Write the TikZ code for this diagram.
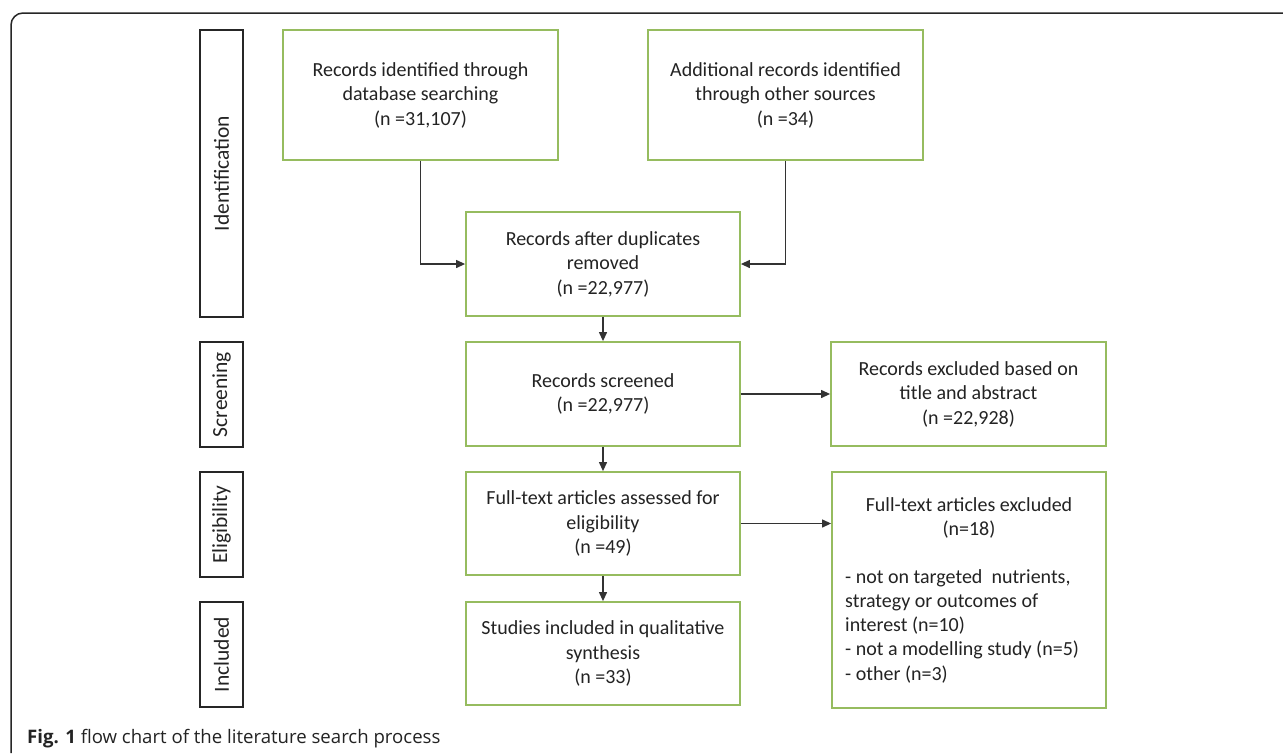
\documentclass[tikz,border=0pt]{standalone}
\usepackage{fontspec}
\setmainfont{Carlito}
\newfontfamily\capfont{Open Sans}
\usetikzlibrary{arrows.meta}
\definecolor{boxgreen}{RGB}{150,188,95}
\definecolor{txt}{RGB}{35,35,35}
\begin{document}
\begin{tikzpicture}[x=1pt,y=-1pt,
  gbox/.style={draw=boxgreen,line width=1.8pt,fill=white,inner sep=0pt,align=center,text=txt,font=\fontsize{20}{24.5}\selectfont},
  stagebox/.style={draw=black!85,line width=1.8pt,fill=white,inner sep=0pt,rotate=90,minimum height=43pt,text=txt,font=\fontsize{21.5}{24}\selectfont},
  plaintext/.style={inner sep=0pt,text=txt,font=\fontsize{20}{24.3}\selectfont},
  arr/.style={draw=black!80,line width=1.2pt,-{Triangle[length=9pt,width=8pt]}}]
\useasboundingbox (0,0) rectangle (1283,753);
\fill[white] (0,0) rectangle (1283,753);
% outer frame
\draw[line width=1.5pt,black!85,rounded corners=12pt] (11,753) -- (11,13) -- (1283,13);
% stage labels
\node[stagebox,minimum width=287pt] (sid) at (221.5,173.5) {Identification};
\node[stagebox,minimum width=105pt] (sscr) at (221.5,394.5) {Screening};
\node[stagebox,minimum width=105pt] (selig) at (221.5,524.5) {Eligibility};
\node[stagebox,minimum width=105pt] (sinc) at (221.5,654.5) {Included};
% boxes
\node[gbox,minimum width=275pt,minimum height=130pt] (b1) at (420.5,95) {Records identified through\\database searching\\(n =31,107)};
\node[gbox,minimum width=275pt,minimum height=130pt] (b2) at (785.5,95) {Additional records identified\\through other sources\\(n =34)};
\node[gbox,minimum width=274pt,minimum height=104pt] (b3) at (603,264) {Records after duplicates\\removed\\(n =22,977)};
\node[gbox,minimum width=274pt,minimum height=104pt] (b4) at (603,394) {Records screened\\(n =22,977)};
\node[gbox,minimum width=275pt,minimum height=104pt] (b5) at (968.5,394) {Records excluded based on\\title and abstract\\(n =22,928)};
\node[gbox,minimum width=274pt,minimum height=103pt] (b6) at (603,523.5) {Full-text articles assessed for\\eligibility\\(n =49)};
\node[gbox,minimum width=274pt,minimum height=103pt] (b7) at (603,653.5) {Studies included in qualitative\\synthesis\\(n =33)};
\node[gbox,minimum width=274pt,minimum height=236pt] (b8) at (969,590) {};
\node[plaintext,align=center] (b8t) at (969,518) {Full-text articles excluded\\(n=18)};
\node[plaintext,align=left,anchor=north west] (b8l) at (845,569) {- not on targeted\ \ nutrients,\\strategy or outcomes of\\interest (n=10)\\- not a modelling study (n=5)\\- other (n=3)};
% connectors
\draw[arr] (b1.south) |- (b3.west);
\draw[arr] (b2.south) |- (b3.east);
\draw[arr] (b3) -- (b4);
\draw[arr] (b4) -- (b5);
\draw[arr] (b4) -- (b6);
\draw[arr] (b6) -- (b8.west |- b6.east);
\draw[arr] (b6) -- (b7);
% caption
\node[anchor=base west,inner sep=0pt,text=txt,font=\capfont\fontsize{18.6}{22}\selectfont] (cap) at (27,743) {\textbf{Fig. 1} flow chart of the literature search process};
\end{tikzpicture}
\end{document}
